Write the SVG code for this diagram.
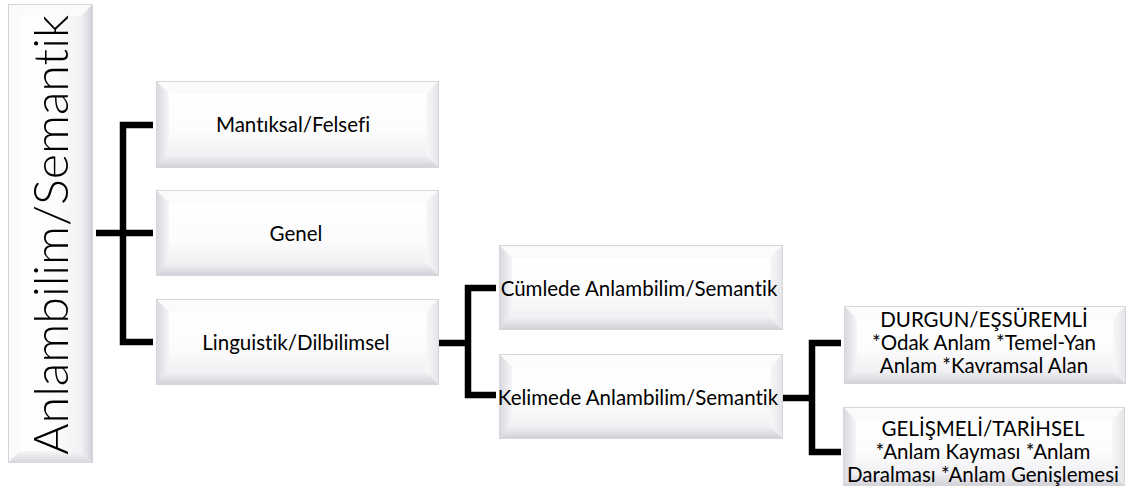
<svg xmlns="http://www.w3.org/2000/svg" width="1129" height="495" viewBox="0 0 1129 495">
<style>
.frame{fill:#ededf0;stroke:#d6d6da;stroke-width:2}
.bt{fill:#fbfbfc}
.bl{fill:url(#gL)}
.bb{fill:url(#gB)}
.br{fill:url(#gR)}
.face{fill:url(#gF)}
.lbl{font-family:Lato,Carlito,"Liberation Sans",sans-serif;font-size:20.5px;fill:#000;text-anchor:middle;font-variant-ligatures:none}
.root{font-family:Lato,Carlito,"Liberation Sans",sans-serif;font-size:48px;font-weight:300;fill:#000;text-anchor:middle;font-variant-ligatures:none}
.conn{fill:none;stroke:#000;stroke-width:6.5;stroke-linejoin:miter;stroke-linecap:butt}
</style>
<defs>
<linearGradient id="gL" x1="0" y1="0" x2="1" y2="0"><stop offset="0" stop-color="#d9d9df"/><stop offset="1" stop-color="#f6f6f8"/></linearGradient>
<linearGradient id="gR" x1="0" y1="0" x2="1" y2="0"><stop offset="0" stop-color="#f8f8f9"/><stop offset="1" stop-color="#e6e6ea"/></linearGradient>
<linearGradient id="gB" x1="0" y1="0" x2="0" y2="1"><stop offset="0" stop-color="#f2f2f5"/><stop offset="1" stop-color="#d2d2d9"/></linearGradient>
<linearGradient id="gRR" x1="0" y1="0" x2="1" y2="0"><stop offset="0" stop-color="#f2f2f5"/><stop offset="1" stop-color="#d2d2d9"/></linearGradient>
<linearGradient id="gBL" x1="0" y1="0" x2="0" y2="1"><stop offset="0" stop-color="#f6f6f8"/><stop offset="1" stop-color="#d9d9df"/></linearGradient>
<linearGradient id="gF" x1="0" y1="0" x2="0" y2="1"><stop offset="0" stop-color="#ffffff"/><stop offset="0.6" stop-color="#fcfcfd"/><stop offset="1" stop-color="#f1f1f4"/></linearGradient>
<linearGradient id="gFR" x1="0" y1="0" x2="1" y2="0"><stop offset="0" stop-color="#ffffff"/><stop offset="0.6" stop-color="#fcfcfd"/><stop offset="1" stop-color="#f1f1f4"/></linearGradient>
</defs>

<g id="connectors">
<path class="conn" d="M96,233 H153"/>
<path class="conn" d="M153,125 H123 V342 H153"/>
<path class="conn" d="M438,343 H468"/>
<path class="conn" d="M496,288 H468 V395 H496"/>
<path class="conn" d="M782,398 H812"/>
<path class="conn" d="M841,343 H812 V452 H841"/>
</g>

<g id="root">
<rect class="frame" x="9" y="5" width="83" height="457"/>
<polygon class="bt" points="9,5 92,5 81,16 20,16"/>
<polygon class="bt" points="9,5 20,16 20,451 9,462"/>
<polygon fill="url(#gBL)" points="9,462 20,451 81,451 92,462"/>
<polygon fill="url(#gRR)" points="92,5 92,462 81,451 81,16"/>
<rect fill="url(#gFR)" x="20" y="16" width="61" height="435"/>
<text class="root" transform="translate(68,235) rotate(-90)" textLength="440" lengthAdjust="spacingAndGlyphs">Anlambilim/Semantik</text>
</g>

<g id="n-mantiksal">
<rect class="frame" x="157" y="82" width="281" height="85"/>
<polygon class="bt" points="157,82 438,82 426,94 169,94"/>
<polygon class="bl" points="157,82 169,94 169,155 157,167"/>
<polygon class="bb" points="157,167 169,155 426,155 438,167"/>
<polygon class="br" points="438,82 438,167 426,155 426,94"/>
<rect class="face" x="169" y="94" width="257" height="61"/>
<text class="lbl" x="293" y="132">Mantıksal/Felsefi</text>
</g>

<g id="n-genel">
<rect class="frame" x="157" y="191" width="281" height="84"/>
<polygon class="bt" points="157,191 438,191 426,203 169,203"/>
<polygon class="bl" points="157,191 169,203 169,263 157,275"/>
<polygon class="bb" points="157,275 169,263 426,263 438,275"/>
<polygon class="br" points="438,191 438,275 426,263 426,203"/>
<rect class="face" x="169" y="203" width="257" height="60"/>
<text class="lbl" x="296" y="241">Genel</text>
</g>

<g id="n-linguistik">
<rect class="frame" x="157" y="300" width="281" height="84"/>
<polygon class="bt" points="157,300 438,300 426,312 169,312"/>
<polygon class="bl" points="157,300 169,312 169,372 157,384"/>
<polygon class="bb" points="157,384 169,372 426,372 438,384"/>
<polygon class="br" points="438,300 438,384 426,372 426,312"/>
<rect class="face" x="169" y="312" width="257" height="60"/>
<text class="lbl" x="296" y="350">Linguistik/Dilbilimsel</text>
</g>

<g id="n-cumlede">
<rect class="frame" x="500" y="246" width="282" height="83"/>
<polygon class="bt" points="500,246 782,246 770,258 512,258"/>
<polygon class="bl" points="500,246 512,258 512,317 500,329"/>
<polygon class="bb" points="500,329 512,317 770,317 782,329"/>
<polygon class="br" points="782,246 782,329 770,317 770,258"/>
<rect class="face" x="512" y="258" width="258" height="59"/>
<text class="lbl" x="639" y="296">Cümlede Anlambilim/Semantik</text>
</g>

<g id="n-kelimede">
<rect class="frame" x="500" y="355" width="282" height="83"/>
<polygon class="bt" points="500,355 782,355 770,367 512,367"/>
<polygon class="bl" points="500,355 512,367 512,426 500,438"/>
<polygon class="bb" points="500,438 512,426 770,426 782,438"/>
<polygon class="br" points="782,355 782,438 770,426 770,367"/>
<rect class="face" x="512" y="367" width="258" height="59"/>
<text class="lbl" x="638" y="405">Kelimede Anlambilim/Semantik</text>
</g>

<g id="n-durgun">
<rect class="frame" x="845" y="307" width="280" height="76"/>
<polygon class="bt" points="845,307 1125,307 1113,319 857,319"/>
<polygon class="bl" points="845,307 857,319 857,371 845,383"/>
<polygon class="bb" points="845,383 857,371 1113,371 1125,383"/>
<polygon class="br" points="1125,307 1125,383 1113,371 1113,319"/>
<rect class="face" x="857" y="319" width="256" height="52"/>
<text class="lbl" x="984" y="327">DURGUN/EŞSÜREMLİ</text>
<text class="lbl" x="984" y="350">*Odak Anlam *Temel-Yan</text>
<text class="lbl" x="984" y="373">Anlam *Kavramsal Alan</text>
</g>

<g id="n-gelismeli">
<rect class="frame" x="844" y="408" width="280" height="77"/>
<polygon class="bt" points="844,408 1124,408 1112,420 856,420"/>
<polygon class="bl" points="844,408 856,420 856,473 844,485"/>
<polygon class="bb" points="844,485 856,473 1112,473 1124,485"/>
<polygon class="br" points="1124,408 1124,485 1112,473 1112,420"/>
<rect class="face" x="856" y="420" width="256" height="53"/>
<text class="lbl" x="983" y="436">GELİŞMELİ/TARİHSEL</text>
<text class="lbl" x="983" y="459">*Anlam Kayması *Anlam</text>
<text class="lbl" x="983" y="482">Daralması *Anlam Genişlemesi</text>
</g>
</svg>
